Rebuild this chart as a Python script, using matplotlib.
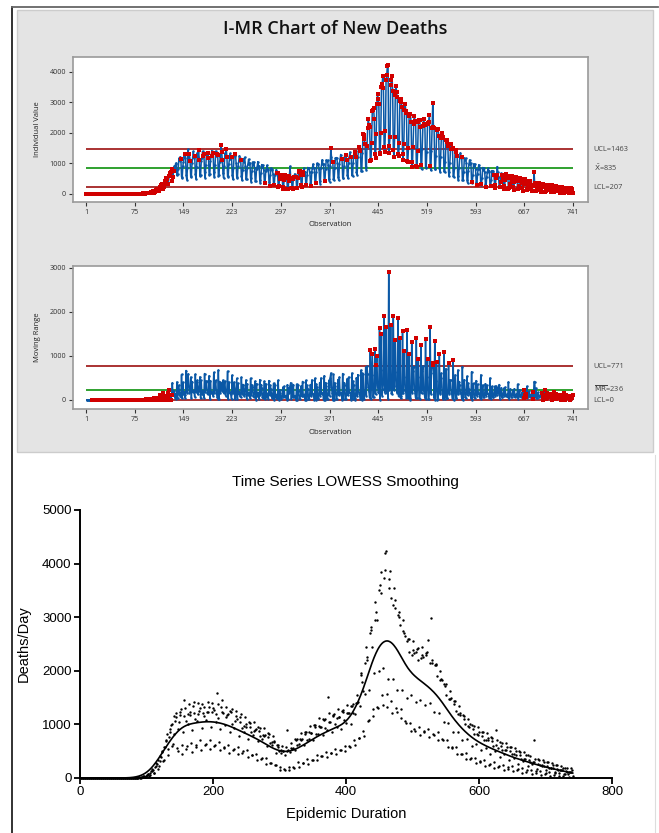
import numpy as np
import matplotlib.pyplot as plt
from matplotlib.patches import Rectangle
from matplotlib.lines import Line2D

# daily new deaths, one row per week
deaths_by_week = [
    [0, 0, 0, 0, 0, 0, 0], [0, 0, 0, 0, 0, 0, 0], [0, 0, 0, 0, 0, 0, 0],
    [0, 0, 0, 0, 0, 0, 0], [0, 0, 0, 0, 0, 0, 0], [0, 0, 0, 0, 0, 0, 0],
    [0, 0, 0, 0, 0, 0, 0], [0, 0, 0, 0, 0, 0, 0], [0, 0, 0, 0, 0, 0, 0],
    [0, 0, 0, 0, 0, 0, 0], [0, 0, 0, 0, 1, 0, 0], [1, 0, 2, 3, 1, 0, 4],
    [6, 8, 5, 11, 14, 4, 7], [18, 25, 22, 31, 36, 15, 19],
    [42, 55, 61, 70, 78, 40, 48], [88, 125, 128, 162, 151, 95, 98],
    [205, 215, 280, 270, 330, 160, 220], [310, 410, 400, 500, 480, 320, 335],
    [570, 575, 690, 700, 820, 430, 545], [760, 905, 850, 990, 1010, 600, 640],
    [820, 1160, 1060, 1210, 1140, 560, 505], [905, 1045, 1230, 1175, 1290, 620, 455],
    [860, 1455, 1150, 1305, 1065, 545, 590], [1010, 1190, 1385, 1170, 1240, 655, 480],
    [890, 1340, 1215, 1420, 1105, 580, 615], [1060, 1185, 1390, 1250, 1300, 700, 520],
    [940, 1375, 1205, 1330, 1160, 610, 640], [1080, 1230, 1410, 1240, 1330, 705, 545],
    [950, 1395, 1225, 1300, 1270, 590, 620], [1040, 1200, 1590, 1380, 1120, 670, 515],
    [905, 1330, 1235, 1460, 1215, 560, 585], [990, 1140, 1320, 1175, 1190, 625, 470],
    [850, 1255, 1230, 1290, 1010, 520, 545], [925, 1060, 1245, 1160, 1095, 580, 440],
    [790, 1140, 1050, 1195, 925, 470, 495], [860, 975, 1130, 960, 1010, 515, 395],
    [735, 1040, 955, 1030, 850, 420, 430], [800, 885, 1050, 890, 915, 455, 340],
    [690, 955, 880, 930, 775, 350, 365], [730, 800, 935, 785, 810, 370, 265],
    [600, 840, 770, 815, 660, 280, 275], [625, 680, 790, 665, 685, 235, 240],
    [470, 620, 580, 610, 500, 210, 150], [460, 520, 600, 500, 510, 165, 150],
    [430, 580, 900, 510, 530, 200, 140], [490, 560, 650, 550, 560, 200, 190],
    [530, 735, 700, 730, 610, 290, 210], [630, 720, 840, 715, 725, 280, 280],
    [610, 860, 830, 850, 705, 355, 270], [725, 850, 975, 840, 835, 340, 345],
    [705, 995, 960, 985, 820, 425, 330], [830, 965, 1115, 960, 960, 410, 405],
    [795, 1105, 1075, 1095, 930, 485, 390], [900, 1510, 1205, 1050, 1050, 470, 465],
    [850, 1175, 1160, 1185, 1010, 545, 440], [960, 1125, 1285, 1140, 1130, 530, 515],
    [910, 1255, 1235, 1265, 1090, 605, 500], [1020, 1205, 1365, 1220, 1210, 600, 585],
    [1010, 1345, 1335, 1375, 1210, 705, 620], [1195, 1405, 1545, 1390, 1420, 740, 745],
    [1350, 1950, 1930, 1800, 1630, 880, 790], [1560, 2150, 2450, 2250, 2200, 1070, 1090],
    [1650, 2700, 2760, 2820, 2450, 1290, 1160], [1960, 2950, 3280, 3100, 2950, 1320, 1310],
    [2000, 3500, 3600, 3850, 3450, 1540, 1370], [2060, 3730, 3880, 4200, 4230, 1330, 1560],
    [1850, 3550, 3720, 3860, 3360, 1440, 1220], [1850, 3220, 3540, 3330, 3170, 1310, 1230],
    [1650, 3050, 3090, 3010, 2850, 1290, 1120], [1640, 2750, 2950, 2700, 2650, 1070, 1030],
    [1500, 2550, 2600, 2600, 2350, 1030, 870], [1540, 2300, 2550, 2380, 2340, 920, 880],
    [1410, 2350, 2400, 2430, 2200, 950, 800], [1460, 2230, 2450, 2300, 2250, 870, 850],
    [1370, 2300, 2330, 2350, 2580, 910, 770], [1390, 2150, 2985, 2200, 2150, 820, 810],
    [1240, 2100, 2100, 2130, 1900, 850, 710], [1220, 1830, 2000, 1850, 1830, 730, 700],
    [1040, 1750, 1710, 1750, 1550, 710, 570], [1020, 1470, 1630, 1470, 1490, 570, 560],
    [860, 1430, 1380, 1430, 1250, 570, 440], [860, 1190, 1340, 1180, 1210, 450, 450],
    [710, 1170, 1110, 1160, 1000, 460, 350], [730, 970, 1110, 960, 1000, 360, 370],
    [600, 980, 920, 970, 820, 380, 280], [640, 820, 950, 810, 860, 290, 310],
    [520, 860, 790, 850, 700, 330, 230], [560, 710, 840, 700, 750, 250, 270],
    [450, 760, 690, 750, 600, 290, 190], [500, 610, 890, 700, 560, 210, 230],
    [390, 670, 600, 660, 520, 250, 150], [440, 530, 650, 520, 580, 170, 200],
    [330, 580, 510, 580, 440, 215, 125], [380, 440, 560, 430, 500, 140, 170],
    [270, 500, 420, 490, 360, 185, 100], [325, 360, 480, 350, 420, 110, 145],
    [225, 420, 340, 415, 295, 155, 80], [270, 295, 710, 290, 355, 90, 125],
    [175, 350, 270, 345, 235, 130, 60], [225, 235, 335, 225, 295, 70, 100],
    [140, 290, 215, 290, 185, 110, 45], [180, 185, 280, 180, 240, 55, 90],
    [105, 240, 165, 235, 140, 90, 30], [150, 140, 225, 140, 195, 40, 75],
    [80, 195, 130, 190, 105, 70, 25], [120, 110, 180, 110, 150, 30],
]

# control limits printed on the chart
i_ucl, i_cl, i_lcl = 1463, 835, 207
mr_ucl, mr_cl, mr_lcl = 771, 236, 0
obs_ticks = [1, 75, 149, 223, 297, 371, 445, 519, 593, 667, 741]

new_deaths = np.array([v for wk in deaths_by_week for v in wk], dtype=float)
obs = np.arange(1, len(new_deaths) + 1)
moving_range = np.abs(np.diff(new_deaths))
mr_obs = obs[1:]

BLUE = "#0a58a6"
RED = "#d10000"
LIMIT = "#a42222"
GREEN = "#1f9a1f"


def flag_points(v, cl, ucl, lcl, sigma, tests):
    n = len(v)
    flag = np.zeros(n, dtype=bool)
    if 1 in tests:
        flag |= (v > ucl) | (v < lcl)
    for i in range(n):
        if 2 in tests and i >= 8:
            w = v[i - 8:i + 1]
            if np.all(w > cl) or np.all(w < cl):
                flag[i] = True
        if 5 in tests and i >= 2:
            w = v[i - 2:i + 1]
            if v[i] > cl + 2 * sigma and np.sum(w > cl + 2 * sigma) >= 2:
                flag[i] = True
            if v[i] < cl - 2 * sigma and np.sum(w < cl - 2 * sigma) >= 2:
                flag[i] = True
        if 6 in tests and i >= 4:
            w = v[i - 4:i + 1]
            if v[i] > cl + sigma and np.sum(w > cl + sigma) >= 4:
                flag[i] = True
            if v[i] < cl - sigma and np.sum(w < cl - sigma) >= 4:
                flag[i] = True
    return flag


def lowess(x, y, frac=0.1):
    n = len(x)
    r = int(np.ceil(frac * n))
    fit = np.zeros(n)
    for i in range(n):
        d = np.abs(x - x[i])
        h = np.sort(d)[r]
        w = np.clip(1 - (d / h) ** 3, 0, 1) ** 3
        sw = w.sum()
        xm = (w * x).sum() / sw
        ym = (w * y).sum() / sw
        b = (w * (x - xm) * (y - ym)).sum() / (w * (x - xm) ** 2).sum()
        fit[i] = ym + b * (x[i] - xm)
    return fit


plt.rcParams["font.family"] = ["Open Sans", "DejaVu Sans"]

fig = plt.figure(figsize=(6.59, 8.33), dpi=100, facecolor="white")
W, H = 659, 833

# minitab gray panel + page borders
fig.patches.append(Rectangle((17 / W, 1 - 452 / H), 636 / W, 442 / H,
                             transform=fig.transFigure, facecolor="#e4e4e4",
                             edgecolor="#cccccc", linewidth=1.0, zorder=-2))
fig.lines.append(Line2D([12 / W, 12 / W], [1 - 7 / H, 0], transform=fig.transFigure,
                        color="#222222", linewidth=1.3))
fig.lines.append(Line2D([12 / W, 658 / W], [1 - 7 / H, 1 - 7 / H], transform=fig.transFigure,
                        color="#666666", linewidth=1.3))
fig.lines.append(Line2D([655 / W, 655 / W], [1 - 455 / H, 0], transform=fig.transFigure,
                        color="#dddddd", linewidth=0.8))

fig.text(335 / W, 1 - 29 / H, "I-MR Chart of New Deaths", ha="center", va="center",
         fontsize=13, color="#111111", fontweight="semibold")


def style_minitab(ax, ylim, yticks):
    ax.set_facecolor("white")
    ax.set_xlim(-19, 764)
    ax.set_ylim(*ylim)
    ax.set_xticks(obs_ticks)
    ax.set_yticks(yticks)
    ax.tick_params(labelsize=5.2, colors="#333333", length=3, width=0.8, pad=2)
    for sp in ax.spines.values():
        sp.set_color("#9a9a9a")
        sp.set_linewidth(1.2)
    ax.set_xlabel("Observation", fontsize=5.5, color="#222222", labelpad=4)


# I chart
ax1 = fig.add_axes([73 / W, 1 - 202 / H, 515 / W, 145 / H])
style_minitab(ax1, (-270, 4480), [0, 1000, 2000, 3000, 4000])
ax1.set_ylabel("Individual Value", fontsize=5.5, color="#222222", labelpad=6)
ax1.hlines([i_ucl, i_lcl], 1, 741, color=LIMIT, linewidth=1.3, zorder=2)
ax1.hlines(i_cl, 1, 741, color=GREEN, linewidth=1.3, zorder=2)
ax1.plot(obs, new_deaths, color=BLUE, linewidth=1.1, marker="o", markersize=1.8,
         markeredgewidth=0, zorder=3)
i_flag = flag_points(new_deaths, i_cl, i_ucl, i_lcl, (i_ucl - i_cl) / 3, {1, 2, 5, 6})
ax1.plot(obs[i_flag], new_deaths[i_flag], linestyle="none", marker="s", markersize=2.6,
         color=RED, markeredgewidth=0, zorder=4)
for val, lab in [(i_ucl, f"UCL={i_ucl}"), (i_cl, r"$\bar{\mathrm{X}}$" + f"={i_cl}"),
                 (i_lcl, f"LCL={i_lcl}")]:
    ax1.annotate(lab, xy=(1, val), xycoords=("axes fraction", "data"), xytext=(4, 0),
                 textcoords="offset points", va="center", fontsize=5.3, color="#444444")

# MR chart
ax2 = fig.add_axes([73 / W, 1 - 409 / H, 515 / W, 143 / H])
style_minitab(ax2, (-205, 3045), [0, 1000, 2000, 3000])
ax2.set_ylabel("Moving Range", fontsize=5.5, color="#222222", labelpad=6)
ax2.hlines([mr_ucl, mr_lcl], 1, 741, color=LIMIT, linewidth=1.3, zorder=2)
ax2.hlines(mr_cl, 1, 741, color=GREEN, linewidth=1.3, zorder=2)
ax2.plot(mr_obs, moving_range, color=BLUE, linewidth=1.1, marker="o", markersize=1.8,
         markeredgewidth=0, zorder=3)
mr_flag = flag_points(moving_range, mr_cl, mr_ucl, -1, (mr_ucl - mr_cl) / 3, {1, 2})
ax2.plot(mr_obs[mr_flag], moving_range[mr_flag], linestyle="none", marker="s",
         markersize=2.6, color=RED, markeredgewidth=0, zorder=4)
for val, lab in [(mr_ucl, f"UCL={mr_ucl}"),
                 (mr_cl + 20, r"$\overline{\mathrm{MR}}$" + f"={mr_cl}"),
                 (mr_lcl - 10, f"LCL={mr_lcl}")]:
    ax2.annotate(lab, xy=(1, val), xycoords=("axes fraction", "data"), xytext=(4, 0),
                 textcoords="offset points", va="center", fontsize=5.3, color="#444444")

# LOWESS chart
smooth = lowess(obs.astype(float), new_deaths, frac=0.1)
ax3 = fig.add_axes([80 / W, 1 - 778 / H, 532 / W, 268 / H])
ax3.scatter(obs, new_deaths, s=3, color="black", linewidths=0, clip_on=False, zorder=3)
ax3.plot(obs, smooth, color="black", linewidth=1.2, zorder=4)
ax3.set_xlim(0, 800)
ax3.set_ylim(0, 5000)
ax3.set_xticks([0, 200, 400, 600, 800])
ax3.set_yticks([0, 1000, 2000, 3000, 4000, 5000])
for s in ["top", "right"]:
    ax3.spines[s].set_visible(False)
for s in ["left", "bottom"]:
    ax3.spines[s].set_linewidth(1.4)
ax3.tick_params(direction="out", length=4, width=1.3, labelsize=9.5, pad=2)
for lbl in ax3.get_xticklabels() + ax3.get_yticklabels():
    lbl.set_family(["Liberation Sans", "DejaVu Sans"])
ax3.set_xlabel("Epidemic Duration", fontsize=10.5, family=["Liberation Sans", "DejaVu Sans"],
               labelpad=6)
ax3.set_ylabel("Deaths/Day", fontsize=10.5, family=["Liberation Sans", "DejaVu Sans"],
               labelpad=8)
fig.text(345 / W, 1 - 482 / H, "Time Series LOWESS Smoothing", ha="center", va="center",
         fontsize=11, family=["Liberation Sans", "DejaVu Sans"])

fig.savefig("out.png", dpi=100, facecolor="white")
